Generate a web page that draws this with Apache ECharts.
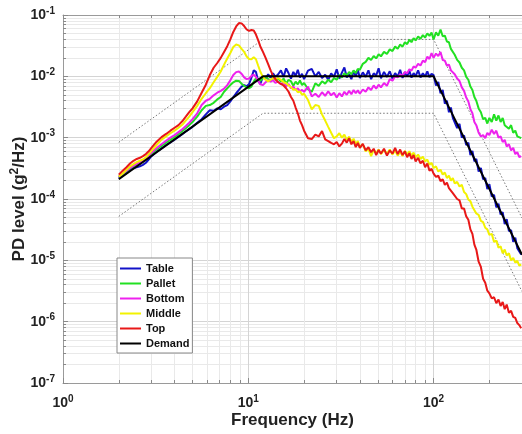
<!DOCTYPE html>
<html><head><meta charset="utf-8">
<script src="https://cdn.jsdelivr.net/npm/echarts@6/dist/echarts.min.js"></script>
<style>html,body{margin:0;padding:0;background:#fff}#c{width:522px;height:434px}</style>
</head><body><div id="c"></div>
<script>
const freq = [
2.0,2.1,2.2,2.3,2.4,2.5,2.6,2.7,2.8,2.9,
3.0,3.2,3.4,3.6,3.8,4.0,4.2,4.4,4.6,4.8,
5.0,5.3,5.6,5.9,6.2,6.5,6.8,7.1,7.4,7.7,
8.0,8.3,8.6,8.9,9.2,9.5,9.8,10.1,10.4,10.7,
11.0,11.3,11.6,12.0,12.4,12.8,13.2,13.6,14.0,14.5,
15,15.5,16,16.5,17,17.5,18,18.5,19,19.5,
20,21,22,23,24,25,26,27,28,29,
30,31,32,33,34,35,36,37,38,39,
40,41.5,43,44.5,46,47.5,49,50.5,52,54,
56,58,60,62,64,66,68,70,72,74,
76,78,80,82.5,85,87.5,90,92.5,95,97.5,
100,103,106,109,112,115,118,121,124,127,
130,134,138,142,146,150,154,158,162,166,
170,175,180,185,190,195,200,206,212,218,
224,230,236,242,248,255,262,269,276,283,
290,297];

const tableVal = [
2.2e-4,2.45e-4,2.7e-4,2.95e-4,3.2e-4,3.3e-4,3.4e-4,3.6e-4,3.9e-4,4.4e-4,
5.0e-4,5.9e-4,6.7e-4,7.6e-4,8.4e-4,9.3e-4,1.03e-3,1.14e-3,1.26e-3,1.38e-3,
1.5e-3,1.75e-3,2.0e-3,2.4e-3,2.8e-3,2.75e-3,3.0e-3,2.9e-3,3.2e-3,3.4e-3,
3.9e-3,4.6e-3,5.3e-3,6.0e-3,6.8e-3,7.2e-3,6.9e-3,7.5e-3,9.5e-3,0.0125,
0.0118,0.0085,0.0075,0.0098,0.0092,0.0108,0.0095,0.0112,0.0098,0.0108,
0.0125,0.0098,0.0135,0.0112,0.0092,0.0118,0.0102,0.0128,0.0096,0.0110,
0.0090,0.0124,0.0132,0.0100,0.0118,0.0094,0.0106,0.0088,0.0112,0.0098,
0.0130,0.0092,0.0115,0.0140,0.0096,0.0108,0.0090,0.0122,0.0100,0.0128,
0.0094,0.0116,0.0098,0.0125,0.0090,0.0112,0.0103,0.0135,0.0093,0.0118,
0.0098,0.0121,0.0092,0.0113,0.0099,0.0128,0.0094,0.0117,0.0100,0.0124,
0.0095,0.0113,0.0101,0.0125,0.0096,0.0112,0.0100,0.0120,0.0097,0.0110,
0.0105,0.0071,0.0081,0.0053,0.0060,0.0036,0.0040,0.0026,0.0031,0.0021,
0.0022,0.00143,0.00168,0.00100,0.00109,0.00076,0.00083,0.00052,0.00061,0.00041,
0.00045,0.00028,0.00032,0.00021,0.00022,0.000145,0.000175,0.00011,0.000117,7.3e-5,
8.4e-5,5.6e-5,6.1e-5,3.9e-5,4.7e-5,3.0e-5,3.1e-5,2.0e-5,2.35e-5,1.58e-5,
1.66e-5,1.24e-5];

const palletVal = [
2.3e-4,2.55e-4,2.85e-4,3.15e-4,3.4e-4,3.6e-4,3.8e-4,4.1e-4,4.5e-4,5.0e-4,
5.5e-4,6.4e-4,7.3e-4,8.3e-4,9.2e-4,1.02e-3,1.14e-3,1.27e-3,1.42e-3,1.6e-3,
1.8e-3,2.2e-3,2.8e-3,3.3e-3,3.4e-3,3.7e-3,4.2e-3,4.6e-3,5.6e-3,6.4e-3,
7.2e-3,8.0e-3,8.5e-3,8.4e-3,7.6e-3,7.0e-3,6.6e-3,6.4e-3,6.8e-3,8.2e-3,
9.3e-3,9.0e-3,8.5e-3,9.4e-3,0.0100,0.0090,0.0086,0.0094,0.0088,0.0092,
0.0082,0.0092,0.0076,0.0088,0.0083,0.0070,0.0082,0.0074,0.0086,0.0072,
0.0078,0.0062,0.0056,0.0077,0.0070,0.0083,0.0076,0.0088,0.0080,0.0094,
0.0088,0.0105,0.0096,0.0112,0.0102,0.0118,0.0108,0.0125,0.0113,0.0132,
0.0128,0.0160,0.0172,0.0200,0.0185,0.0215,0.0196,0.0230,0.0212,0.0250,
0.0232,0.0275,0.0258,0.0305,0.0282,0.0330,0.0305,0.0360,0.0335,0.0395,
0.0360,0.0420,0.0385,0.0445,0.0410,0.0470,0.0430,0.0500,0.0455,0.0520,
0.0400,0.0520,0.0460,0.0580,0.0450,0.0460,0.0370,0.0360,0.0280,0.0290,
0.0225,0.0185,0.0168,0.0138,0.0125,0.0098,0.0088,0.0068,0.0060,0.0046,
0.0040,0.0030,0.0026,0.0020,0.0021,0.0017,0.0021,0.0018,0.0024,0.0019,
0.0023,0.0018,0.0021,0.0016,0.0017,0.0014,0.0016,0.0012,0.0013,0.00105,
0.00112,0.00098];

const bottomVal = [
2.3e-4,2.6e-4,2.9e-4,3.2e-4,3.5e-4,3.75e-4,3.95e-4,4.2e-4,4.6e-4,5.1e-4,
5.7e-4,6.8e-4,7.8e-4,8.9e-4,1.0e-3,1.1e-3,1.23e-3,1.37e-3,1.55e-3,1.75e-3,
2.0e-3,2.5e-3,3.4e-3,4.0e-3,4.3e-3,4.9e-3,5.4e-3,5.8e-3,6.3e-3,7.2e-3,
8.6e-3,0.0105,0.0117,0.0120,0.0110,0.0096,0.0090,0.0092,0.0102,0.0106,
0.0098,0.0086,0.0074,0.0072,0.0080,0.0086,0.0082,0.0087,0.0078,0.0082,
0.0074,0.0080,0.0069,0.0075,0.0064,0.0068,0.0060,0.0064,0.0057,0.0060,
0.0056,0.0068,0.0047,0.0052,0.0046,0.0055,0.0048,0.0057,0.0049,0.0054,
0.0045,0.0053,0.0047,0.0056,0.0050,0.0058,0.0051,0.0060,0.0053,0.0059,
0.0052,0.0061,0.0056,0.0066,0.0060,0.0071,0.0063,0.0073,0.0066,0.0078,
0.0070,0.0090,0.0085,0.0100,0.0096,0.0108,0.0102,0.0118,0.0112,0.0130,
0.0124,0.0145,0.0138,0.0160,0.0150,0.0180,0.0170,0.0210,0.0192,0.0240,
0.0200,0.0235,0.0215,0.0250,0.0185,0.0180,0.0150,0.0155,0.0125,0.0130,
0.0108,0.0092,0.0084,0.0066,0.0058,0.0045,0.0039,0.0029,0.0025,0.0018,
0.0016,0.0012,0.00105,0.00110,0.00098,0.00120,0.00110,0.00135,0.00115,0.00130,
0.00100,0.00105,0.00085,0.00092,0.00072,0.00078,0.00062,0.00068,0.00054,0.00058,
0.00048,0.00050];

const middleVal = [
2.3e-4,2.6e-4,3.0e-4,3.4e-4,3.7e-4,4.0e-4,4.2e-4,4.4e-4,4.8e-4,5.4e-4,
6.1e-4,7.6e-4,9.3e-4,1.05e-3,1.18e-3,1.3e-3,1.45e-3,1.62e-3,1.9e-3,2.2e-3,
2.6e-3,3.3e-3,4.3e-3,5.3e-3,6.4e-3,8.0e-3,9.8e-3,0.0120,0.0155,0.0195,
0.024,0.030,0.033,0.032,0.028,0.025,0.021,0.0192,0.0190,0.0205,
0.019,0.0150,0.0120,0.0097,0.0088,0.0083,0.0088,0.0094,0.0090,0.0094,
0.0088,0.0080,0.0077,0.0071,0.0067,0.0060,0.0062,0.0055,0.0057,0.0050,
0.0052,0.0041,0.0029,0.0034,0.0033,0.0024,0.0019,0.0015,0.0012,0.00098,
0.00105,0.00118,0.00100,0.00112,0.00092,0.00104,0.00086,0.00096,0.00079,0.00088,
0.00071,0.00078,0.00060,0.00066,0.00050,0.00063,0.00056,0.00064,0.00054,0.00063,
0.00055,0.00064,0.00053,0.00062,0.00051,0.00059,0.00050,0.00061,0.00053,0.00060,
0.00051,0.00057,0.00048,0.00053,0.00045,0.00049,0.00041,0.00044,0.00036,0.00039,
0.00032,0.00034,0.00028,0.00030,0.00025,0.00027,0.00022,0.00024,0.00020,0.00022,
0.00018,0.00019,0.00016,0.00017,0.00013,0.00012,9.8e-5,9.2e-5,7.5e-5,7.0e-5,
5.8e-5,5.5e-5,4.4e-5,4.2e-5,3.4e-5,3.2e-5,2.6e-5,2.7e-5,2.0e-5,2.1e-5,
1.6e-5,1.7e-5,1.3e-5,1.5e-5,1.2e-5,1.3e-5,1.0e-5,1.1e-5,9.2e-6,9.8e-6,
8.2e-6,8.6e-6];

const topVal = [
2.5e-4,2.9e-4,3.3e-4,3.8e-4,4.2e-4,4.5e-4,4.7e-4,5.0e-4,5.4e-4,6.0e-4,
6.8e-4,8.6e-4,1.02e-3,1.15e-3,1.3e-3,1.45e-3,1.6e-3,1.85e-3,2.2e-3,2.6e-3,
3.0e-3,3.9e-3,5.4e-3,7.3e-3,0.0105,0.0138,0.0165,0.020,0.025,0.031,
0.040,0.053,0.065,0.074,0.073,0.066,0.058,0.055,0.057,0.056,
0.048,0.039,0.031,0.025,0.020,0.0158,0.0125,0.0102,0.0090,0.0080,
0.0075,0.0071,0.0064,0.0056,0.0046,0.0040,0.0031,0.0025,0.0019,0.0016,
0.0013,0.00098,0.00095,0.00112,0.00105,0.00128,0.00094,0.00088,0.00082,0.00078,
0.00085,0.00072,0.00080,0.00095,0.00083,0.00098,0.00078,0.00088,0.00070,0.00082,
0.00068,0.00079,0.00062,0.00070,0.00058,0.00066,0.00052,0.00063,0.00055,0.00066,
0.00051,0.00062,0.00055,0.00068,0.00054,0.00064,0.00052,0.00060,0.00048,0.00056,
0.00045,0.00052,0.00041,0.00047,0.00038,0.00042,0.00033,0.00038,0.00029,0.00031,
2.6e-4,2.3e-4,2.4e-4,1.95e-4,2.1e-4,1.7e-4,1.85e-4,1.5e-4,1.55e-4,1.25e-4,
1.3e-4,1.0e-4,9.5e-5,7.0e-5,7.0e-5,5.2e-5,4.6e-5,3.2e-5,2.7e-5,1.8e-5,
1.5e-5,9.5e-6,7.8e-6,5.0e-6,4.3e-6,3.2e-6,2.9e-6,2.4e-6,2.5e-6,2.0e-6,
2.3e-6,1.8e-6,2.1e-6,1.6e-6,1.9e-6,1.4e-6,1.5e-6,1.2e-6,1.15e-6,9.5e-7,
8.8e-7,7.8e-7];

const demandFreq = [2, 12, 100, 300];
const demandVal  = [2.1e-4, 1.0e-2, 1.0e-2, 1.23e-5];
const upperVal   = [8.4e-4, 4.0e-2, 4.0e-2, 4.9e-5];
const lowerVal   = [5.2e-5, 2.5e-3, 2.5e-3, 3.1e-6];

const names  = ['Table', 'Pallet', 'Bottom', 'Middle', 'Top'];
const values = [tableVal, palletVal, bottomVal, middleVal, topVal];
const colors = ['#1212c8', '#22e022', '#ee22ee', '#f2f200', '#e81818'];

const xMinor = [2,3,4,5,6,7,8,9,20,30,40,50,60,70,80,90,200,300];
const yDecades = [-7,-6,-5,-4,-3,-2];
const yMult = [2,3,4,5,6,7,8,9];
const yMinor = [];
yDecades.forEach(d => yMult.forEach(m => yMinor.push(m * Math.pow(10, d))));

const FONT = 'Liberation Sans, Arial, Helvetica, sans-serif';
const TXT = '#222';
function pow10Label(v) {
  const e = Math.round(Math.log10(v));
  return '{b|10}{s|' + e + '}';
}
const labRich = {
  b: {fontSize: 14, fontWeight: 'bold', fontFamily: FONT, color: TXT},
  s: {fontSize: 10, fontWeight: 'bold', fontFamily: FONT, color: TXT, padding: [0, 0, 8, 0]}
};

const series = [];
series.push({type:'line', name:'upper', data: demandFreq.map((f,i)=>[f, upperVal[i]]),
  symbol:'none', lineStyle:{color:'#777', width:1, type:[1.5,2]}, silent:true, z:3});
series.push({type:'line', name:'lower', data: demandFreq.map((f,i)=>[f, lowerVal[i]]),
  symbol:'none', lineStyle:{color:'#777', width:1, type:[1.5,2]}, silent:true, z:3});
names.forEach((n, k) => {
  series.push({type:'line', name:n, data: freq.map((f,i)=>[f, values[k][i]]),
    symbol:'none', color: colors[k], lineStyle:{color: colors[k], width:2}, z:4});
});
series.push({type:'line', name:'Demand', data: demandFreq.map((f,i)=>[f, demandVal[i]]),
  symbol:'none', color:'#000', lineStyle:{color:'#000', width:2}, z:5});

const chart = echarts.init(document.getElementById('c'), null, {renderer:'canvas'});
chart.setOption({
  animation: false,
  backgroundColor: '#fff',
  grid: {left: 63, top: 15, right: 0, bottom: 51, show: false, containLabel: false, outerBoundsMode: 'none'},
  legend: {
    data: ['Table','Pallet','Bottom','Middle','Top','Demand'],
    orient: 'vertical', left: 117, top: 258,
    icon: 'rect', itemWidth: 21, itemHeight: 2, itemGap: 2,
    backgroundColor: '#fff', borderColor: '#888', borderWidth: 1, borderRadius: 0,
    padding: [4, 3, 3, 3],
    textStyle: {fontSize: 11, fontWeight: 'bold', fontFamily: FONT, color: '#111', lineHeight: 13}
  },
  xAxis: [
    {type:'log', logBase:10, min:1, max:300, position:'bottom',
     name:'Frequency (Hz)', nameLocation:'middle', nameGap:29, nameMoveOverlap:false,
     nameTextStyle:{fontSize:17, fontWeight:'bold', fontFamily:FONT, color:TXT},
     axisLine:{show:true, lineStyle:{color:'#9a9a9a', width:1}},
     axisTick:{show:true, inside:true, length:5, lineStyle:{color:'#8a8a8a'}},
     axisLabel:{formatter: pow10Label, rich: labRich, margin: 11, showMaxLabel:false, hideOverlap:false},
     splitLine:{show:true, lineStyle:{color:'#d4d4d4', width:1}}},
    {type:'log', logBase:10, min:1, max:300, position:'bottom',
     axisLine:{show:false}, axisLabel:{show:false},
     axisTick:{show:true, inside:true, length:3, customValues: xMinor, lineStyle:{color:'#8a8a8a'}},
     splitLine:{show:true, lineStyle:{color:'#e9e9e9', width:1}}},
    {type:'log', logBase:10, min:1, max:300, position:'top',
     axisLine:{show:true, lineStyle:{color:'#9a9a9a', width:1}}, axisLabel:{show:false},
     axisTick:{show:true, inside:true, length:3, customValues: [1,10,100].concat(xMinor), lineStyle:{color:'#8a8a8a'}},
     splitLine:{show:false}}
  ],
  yAxis: [
    {type:'log', logBase:10, min:1e-7, max:1e-1, position:'left',
     name:'PD level (g{sup|2}/Hz)', nameLocation:'middle', nameGap:34, nameMoveOverlap:false,
     nameTextStyle:{fontSize:17, fontWeight:'bold', fontFamily:FONT, color:TXT,
       rich:{sup:{fontSize:12, fontWeight:'bold', fontFamily:FONT, color:TXT, padding:[0,0,8,0]}}},
     axisLine:{show:true, lineStyle:{color:'#9a9a9a', width:1}},
     axisTick:{show:true, inside:true, length:5, lineStyle:{color:'#8a8a8a'}},
     axisLabel:{formatter: pow10Label, rich: labRich, margin: 8},
     splitLine:{show:true, lineStyle:{color:'#d4d4d4', width:1}}},
    {type:'log', logBase:10, min:1e-7, max:1e-1, position:'left',
     axisLine:{show:false}, axisLabel:{show:false},
     axisTick:{show:true, inside:true, length:3, customValues: yMinor, lineStyle:{color:'#8a8a8a'}},
     splitLine:{show:true, lineStyle:{color:'#e9e9e9', width:1}}}
  ],
  series: series
});
</script></body></html>
